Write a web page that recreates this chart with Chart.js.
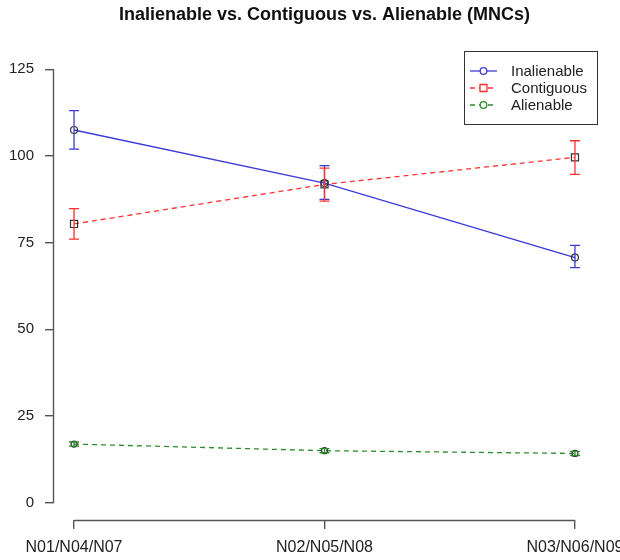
<!DOCTYPE html>
<html>
<head>
<meta charset="utf-8">
<script src="https://cdn.jsdelivr.net/npm/chart.js@4.4.1/dist/chart.umd.min.js"></script>
<style>
  body { margin: 0; background: #fff; }
  #wrap { width: 620px; height: 560px; }
</style>
</head>
<body>
<div id="wrap"><canvas id="chart" width="620" height="560"></canvas></div>
<script>
const chartTitle = "Inalienable vs. Contiguous vs. Alienable (MNCs)";
const categories = ["N01/N04/N07", "N02/N05/N08", "N03/N06/N09"];
const xPositions = [1, 2, 3];
const yTicks = [0, 25, 50, 75, 100, 125];

const inalienable = [107.5, 92.2, 70.7];
const inalienableLow = [102.0, 87.5, 67.8];
const inalienableHigh = [113.1, 97.2, 74.2];

const contiguous = [80.4, 91.8, 99.6];
const contiguousLow = [76.0, 87.0, 94.7];
const contiguousHigh = [84.8, 96.5, 104.4];

const alienable = [16.9, 15.0, 14.2];
const alienableLow = [16.3, 14.4, 13.6];
const alienableHigh = [17.5, 15.6, 14.8];

const FONT = "'Liberation Sans', Arial, sans-serif";
const AXIS = "#555";

Chart.defaults.font.family = FONT;
Chart.defaults.font.size = 15;
Chart.defaults.color = "#222";

function points(values) {
  return values.map((v, i) => ({ x: xPositions[i], y: v }));
}

// R-style detached axis lines, only between first and last tick
const axisLines = {
  id: "axisLines",
  afterDraw(chart) {
    const { ctx, chartArea, scales } = chart;
    ctx.save();
    ctx.strokeStyle = AXIS;
    ctx.lineWidth = 1.4;
    ctx.beginPath();
    const lx = Math.round(chartArea.left) - 0.5;
    ctx.moveTo(lx, scales.y.getPixelForValue(yTicks[0]));
    ctx.lineTo(lx, scales.y.getPixelForValue(yTicks[yTicks.length - 1]));
    const by = Math.round(chartArea.bottom) + 0.5;
    ctx.moveTo(scales.x.getPixelForValue(xPositions[0]), by);
    ctx.lineTo(scales.x.getPixelForValue(xPositions[xPositions.length - 1]), by);
    ctx.stroke();
    ctx.restore();
  }
};

const errorBars = {
  id: "errorBars",
  afterDatasetsDraw(chart) {
    const { ctx, scales } = chart;
    ctx.save();
    ctx.lineWidth = 1.3;
    chart.data.datasets.forEach((ds) => {
      ctx.strokeStyle = ds.borderColor;
      ds.errLow.forEach((lo, i) => {
        const x = scales.x.getPixelForValue(xPositions[i]);
        const y1 = scales.y.getPixelForValue(lo);
        const y2 = scales.y.getPixelForValue(ds.errHigh[i]);
        ctx.beginPath();
        ctx.moveTo(x, y1);
        ctx.lineTo(x, y2);
        ctx.moveTo(x - 5, y1);
        ctx.lineTo(x + 5, y1);
        ctx.moveTo(x - 5, y2);
        ctx.lineTo(x + 5, y2);
        ctx.stroke();
      });
    });
    ctx.restore();
  }
};

const titlePlugin = {
  id: "rTitle",
  afterDraw(chart) {
    const { ctx, chartArea } = chart;
    ctx.save();
    ctx.font = "bold 18px " + FONT;
    ctx.fillStyle = "#111";
    ctx.textAlign = "center";
    ctx.textBaseline = "middle";
    ctx.fillText(chartTitle, (chartArea.left + chartArea.right) / 2, 15);
    ctx.restore();
  }
};

const legendBox = {
  id: "legendBox",
  afterDraw(chart) {
    const { ctx } = chart;
    const x0 = 464, y0 = 51, w = 133, h = 73;
    ctx.save();
    ctx.strokeStyle = "#333";
    ctx.lineWidth = 1;
    ctx.strokeRect(x0 + 0.5, y0 + 0.5, w, h);
    ctx.font = "15px " + FONT;
    ctx.textBaseline = "middle";
    chart.data.datasets.forEach((ds, i) => {
      const y = y0 + 20 + i * 17;
      ctx.strokeStyle = ds.borderColor;
      ctx.setLineDash(ds.borderDash || []);
      ctx.lineWidth = 1.3;
      ctx.beginPath();
      ctx.moveTo(x0 + 6, y);
      ctx.lineTo(x0 + 33, y);
      ctx.stroke();
      ctx.setLineDash([]);
      ctx.fillStyle = "#fff";
      ctx.beginPath();
      if (ds.pointStyle === "rect") {
        ctx.rect(x0 + 16, y - 3.5, 7, 7);
      } else {
        ctx.arc(x0 + 19.5, y, 3.3, 0, Math.PI * 2);
      }
      ctx.fill();
      ctx.stroke();
      ctx.fillStyle = "#222";
      ctx.fillText(ds.label, x0 + 47, y + 1);
    });
    ctx.restore();
  }
};

const ctx = document.getElementById("chart").getContext("2d");
const myChart = new Chart(ctx, {
  type: "line",
  data: {
    datasets: [
      {
        label: "Inalienable",
        data: points(inalienable),
        errLow: inalienableLow,
        errHigh: inalienableHigh,
        borderColor: "#3b3bd6",
        borderWidth: 1.3,
        pointStyle: "circle",
        pointRadius: 3.5,
        pointBorderColor: "#333",
        pointBackgroundColor: "rgba(0,0,0,0)",
        pointBorderWidth: 1.2,
        tension: 0,
      },
      {
        label: "Contiguous",
        data: points(contiguous),
        errLow: contiguousLow,
        errHigh: contiguousHigh,
        borderColor: "#ff3030",
        borderWidth: 1.3,
        borderDash: [5, 4],
        pointStyle: "rect",
        pointRadius: 5,
        pointBorderColor: "#333",
        pointBackgroundColor: "rgba(0,0,0,0)",
        pointBorderWidth: 1.2,
        tension: 0,
      },
      {
        label: "Alienable",
        data: points(alienable),
        errLow: alienableLow,
        errHigh: alienableHigh,
        borderColor: "#2e8b2e",
        borderWidth: 1.3,
        borderDash: [5, 4],
        pointStyle: "circle",
        pointRadius: 3,
        pointBorderColor: "#333",
        pointBackgroundColor: "rgba(0,0,0,0)",
        pointBorderWidth: 1.2,
        tension: 0,
      },
    ],
  },
  options: {
    responsive: false,
    animation: false,
    devicePixelRatio: 1,
    layout: { padding: { top: 52, right: 25, left: 0, bottom: 0 } },
    plugins: {
      legend: { display: false },
      tooltip: { enabled: false },
    },
    scales: {
      x: {
        type: "linear",
        min: 0.92,
        max: 3.08,
        border: { display: false },
        grid: { drawOnChartArea: false, tickLength: 9, color: AXIS, lineWidth: 1.4 },
        ticks: {
          padding: 9,
          maxRotation: 0,
          autoSkip: false,
          color: "#222",
          font: { size: 16 },
          callback: (v) => categories[xPositions.indexOf(v)] || "",
        },
        afterBuildTicks: (scale) => {
          scale.ticks = xPositions.map((v) => ({ value: v }));
        },
        afterFit: (scale) => {
          scale.height = 40;
          scale.paddingLeft = 0;
          scale.paddingRight = 0;
        },
      },
      y: {
        type: "linear",
        min: -5,
        max: 130,
        border: { display: false },
        grid: { drawOnChartArea: false, tickLength: 9, color: AXIS, lineWidth: 1.4 },
        ticks: { padding: 11, color: "#222" },
        afterBuildTicks: (scale) => {
          scale.ticks = yTicks.map((v) => ({ value: v }));
        },
        afterFit: (scale) => {
          scale.width = 54;
          scale.paddingTop = 0;
          scale.paddingBottom = 0;
        },
      },
    },
  },
  plugins: [axisLines, errorBars, titlePlugin, legendBox],
});
</script>
</body>
</html>
